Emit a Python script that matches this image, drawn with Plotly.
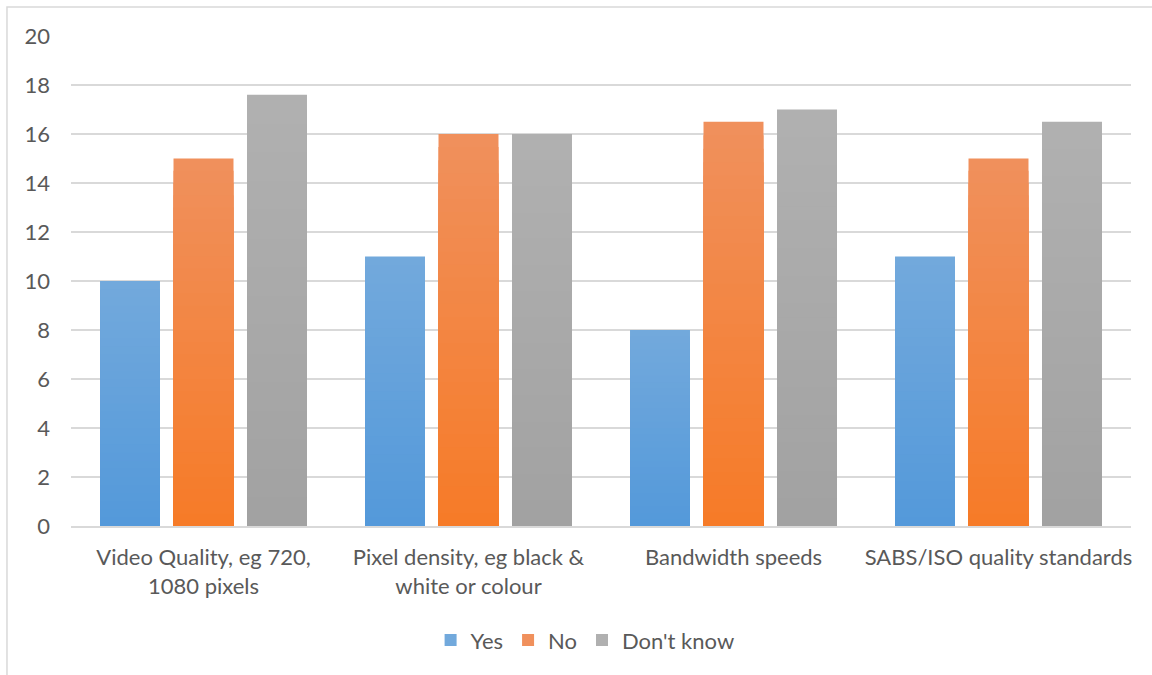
import plotly.graph_objects as go

# Survey responses per quality factor
categories = [
    "Video Quality, eg 720,<br>1080 pixels",
    "Pixel density, eg black &<br>white or colour",
    "Bandwidth speeds",
    "SABS/ISO quality standards",
]
yes_values = [10, 11, 8, 11]
no_values = [15, 16, 16.5, 15]
dont_know_values = [17.6, 16, 17, 16.5]

series = [
    ("Yes", yes_values, (114, 169, 220), (84, 153, 218)),
    ("No", no_values, (240, 144, 92), (246, 123, 40)),
    ("Don't know", dont_know_values, (176, 176, 176), (162, 162, 162)),
]

# Number of overlapping layers used to fake a vertical gradient fill
N_LAYERS = 30

TEXT = "#595959"
GRID = "#d9d9d9"
FONT = "Lato"
FONT_SIZE = 22


def mix(c_top, c_bot, t):
    return "rgb({},{},{})".format(*[round(a + (b - a) * t) for a, b in zip(c_top, c_bot)])


fig = go.Figure()
for name, values, c_top, c_bot in series:
    for k in range(N_LAYERS):
        frac = (N_LAYERS - k) / N_LAYERS
        fig.add_trace(go.Bar(
            x=categories,
            y=[v * frac for v in values],
            name=name,
            offsetgroup=name,
            legendgroup=name,
            showlegend=(k == 0),
            marker=dict(color=mix(c_top, c_bot, k / (N_LAYERS - 1)), line=dict(width=0)),
            hoverinfo="skip" if k else None,
        ))

fig.update_layout(
    width=1152,
    height=675,
    barmode="group",
    bargap=0.168,
    bargroupgap=0.184,
    paper_bgcolor="white",
    plot_bgcolor="white",
    margin=dict(l=71, r=21, t=36, b=149),
    font=dict(family=FONT, size=FONT_SIZE, color=TEXT),
    xaxis=dict(
        showgrid=False,
        showline=True,
        linecolor=GRID,
        linewidth=2,
        ticks="",
        tickfont=dict(family=FONT, size=FONT_SIZE, color=TEXT),
        ticklabelstandoff=11,
    ),
    yaxis=dict(
        range=[0, 20],
        dtick=2,
        showgrid=True,
        gridcolor=GRID,
        gridwidth=1.5,
        zeroline=False,
        showline=False,
        ticks="",
        tickfont=dict(family=FONT, size=FONT_SIZE, color=TEXT),
        ticklabelstandoff=20,
    ),
    legend=dict(
        orientation="h",
        x=0.485,
        xanchor="center",
        y=-0.233,
        yanchor="middle",
        font=dict(family=FONT, size=FONT_SIZE, color=TEXT),
        itemclick=False,
        traceorder="normal",
    ),
    showlegend=True,
)

# Outer chart border
fig.add_shape(
    type="rect",
    xref="paper", yref="paper",
    x0=-0.0604, x1=1.05, y0=-0.4, y1=1.0592,
    line=dict(color=GRID, width=1.5),
    fillcolor="rgba(0,0,0,0)",
    layer="below",
)

fig.write_html("out.html")
